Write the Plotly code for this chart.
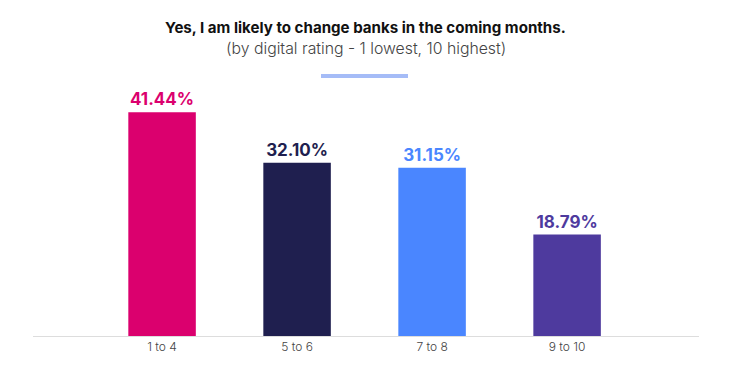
import plotly.graph_objects as go

categories = ["1 to 4", "5 to 6", "7 to 8", "9 to 10"]
values = [41.44, 32.10, 31.15, 18.79]
labels = ["41.44%", "32.10%", "31.15%", "18.79%"]
colors = ["#DB006E", "#1F1F4F", "#4A86FF", "#4E3A9E"]

# page body has an 8px default margin; compensate so positions match the target window
OFF = 8
W, H = 730 - OFF, 366 - OFF
ML, MR, MT, MB = 33 - OFF, 31, 80 - OFF, 26

fig = go.Figure(go.Bar(
    x=categories, y=values, width=0.5,
    marker=dict(color=colors, line=dict(width=0)),
    text=labels, textposition="outside", cliponaxis=False,
    textfont=dict(family="Inter", size=17, color=colors, weight="bold"),
    hoverinfo="skip",
))

plot_w = W - ML - MR
plot_h = H - MT - MB
def px_x(x):
    return (x - OFF - ML) / plot_w
def px_y(y):
    return (H - MB - (y - OFF)) / plot_h

fig.update_layout(
    width=W, height=H,
    margin=dict(l=ML, r=MR, t=MT, b=MB),
    paper_bgcolor="white", plot_bgcolor="white",
    showlegend=False,
    xaxis=dict(range=[-0.956, 3.977], showline=True, linecolor="#dddddd", linewidth=1,
               showgrid=False, ticks="",
               tickfont=dict(family="Inter", size=12, color="#444444", weight=300)),
    yaxis=dict(range=[0, 47.4], visible=False, showgrid=False, zeroline=False),
    annotations=[
        dict(text="<b>Yes, I am likely to change banks in the coming months.</b>",
             x=px_x(365), y=px_y(26.5), xref="paper", yref="paper", showarrow=False,
             font=dict(family="Inter", size=15.1, color="#111111"), yanchor="middle"),
        dict(text="(by digital rating - 1 lowest, 10 highest)",
             x=px_x(366), y=px_y(48), xref="paper", yref="paper", showarrow=False,
             font=dict(family="Inter", size=15.8, color="#444444", weight=300), yanchor="middle"),
    ],
    shapes=[dict(type="line", xref="paper", yref="paper",
                 x0=px_x(321), x1=px_x(408), y0=px_y(76), y1=px_y(76),
                 line=dict(color="#A5BCF7", width=4))],
)

fig.write_html("out.html")
